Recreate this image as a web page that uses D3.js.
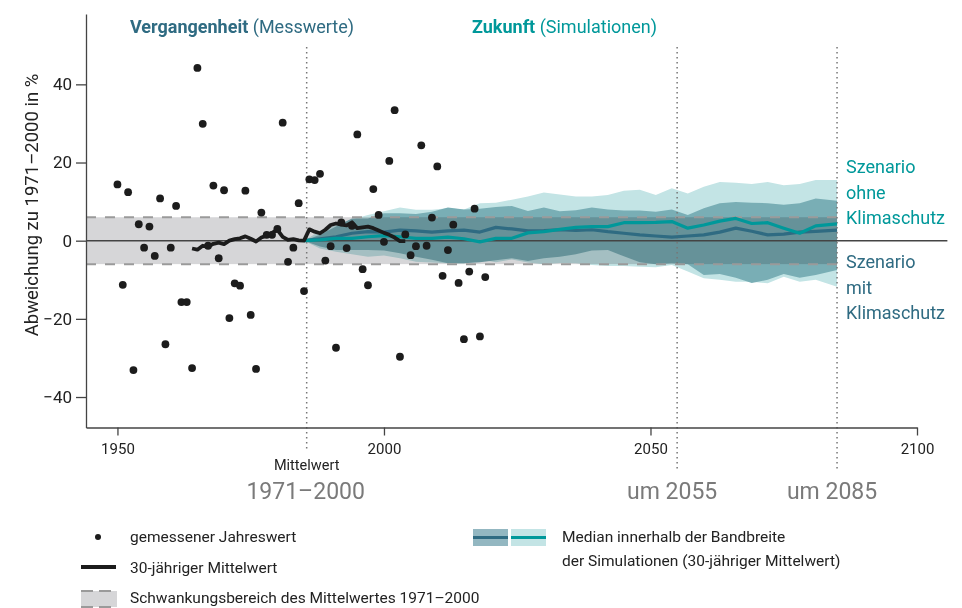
<!DOCTYPE html>
<html>
<head>
<meta charset="utf-8">
<script src="https://cdn.jsdelivr.net/npm/d3@7"></script>
<style>
  body { margin: 0; background: #fff; }
  svg text { font-family: Roboto, "Liberation Sans", sans-serif; }
</style>
</head>
<body>
<svg id="chart" width="962" height="608"></svg>
<script>
// measured yearly values 1950-2019 (deviation from 1971-2000 in %)
var obsStart = 1950;
var obsValues = [
  14.4, -11.3, 12.4, -33.1, 4.2, -1.8, 3.6, -3.9, 10.8, -26.5,
  -1.8, 8.9, -15.7, -15.7, -32.6, 44.2, 29.9, -1.3, 14.1, -4.5,
  12.9, -19.8, -10.9, -11.5, 12.8, -19, -32.8, 7.2, 1.5, 1.5,
  3, 30.2, -5.4, -1.8, 9.6, -12.9, 15.7, 15.5, 17.1, -5.1,
  -1.4, -27.4, 4.7, -1.9, 3.8, 27.2, -7.3, -11.4, 13.2, 6.6,
  -0.3, 20.4, 33.4, -29.7, 1.6, -3.7, -1.4, 24.4, -1.3, 5.9,
  19, -9, -2.4, 4.1, -10.8, -25.2, -7.9, 8.2, -24.5, -9.3
];

// 30-year running mean (centered), 1964-2004
var meanStart = 1964;
var meanValues = [
  -2.0, -2.3, -1.3, -1.5, -0.8, -0.5, -0.9, 0.0, 0.4, 0.6,
  1.1, 0.5, -0.2, 0.8, 1.3, 2.0, 2.8, 1.0, 0.2, 0.4,
  0.1, 0.0, 2.9, 2.3, 1.9, 2.8, 4.0, 4.4, 4.1, 3.9,
  4.7, 3.2, 3.4, 3.6, 3.2, 2.6, 2.0, 1.5, 0.8, -0.1, -0.1
];

// simulations (30-year mean)
var simYears = [1985, 1988, 1991, 1994, 1997, 2000, 2003, 2006, 2009, 2012, 2015, 2018, 2021, 2024, 2027, 2030, 2033,
  2036, 2039, 2042, 2045, 2048, 2051, 2054, 2057, 2060, 2063, 2066, 2069, 2072, 2075, 2078, 2081, 2085];
var ohneHi = [0, 2.5, 4, 5.5, 6.6, 7.5, 8.5, 7.9, 7.9, 8.3, 8, 9.6, 9.7, 10.5, 11.3, 12.3, 11.8,
  11.3, 11.3, 11.7, 12.8, 13, 11.7, 13.4, 12.1, 13.8, 15, 14.8, 14.5, 15, 14.2, 14.5, 15.5, 15.5];
var ohneLo = [0, -2, -2.8, -3.5, -4.1, -3.8, -4.5, -5.4, -5.6, -5.8, -5.8, -4.8, -5.5, -4.8, -5.6, -6, -5.7,
  -5.8, -6.2, -6.5, -6.5, -6.7, -6.8, -6.2, -7.9, -9.6, -10, -10.5, -10.5, -10.9, -9.2, -10.5, -10, -11.8];
var ohneMed = [0, 0.2, 0.6, 0.6, 1, 1.3, 1, 0.6, 0.6, 0.9, 0.5, -0.3, 0.6, 0.6, 2, 2.3, 2.9,
  3.4, 3.6, 3.6, 4.6, 4.6, 4.7, 4.9, 3.2, 4, 5, 5.7, 4.4, 4.6, 3.2, 1.9, 3.8, 4.3];
var mitHi = [0, 1.5, 3.6, 5.7, 5.7, 7, 7, 6.8, 7.4, 8.5, 8, 8.2, 8.6, 8.9, 7.6, 8.5, 7.5,
  7.8, 8.5, 8, 7.7, 7.7, 7.4, 8, 6.6, 8.3, 9.6, 9.9, 9.7, 9.6, 9.2, 9.6, 10.8, 10.2];
var mitLo = [0, -1.5, -2.4, -2.4, -2.4, -2.5, -3.2, -4.1, -4.9, -5.8, -5.8, -5.5, -5, -4.5, -5.2, -4.5, -4.1,
  -3.5, -2.5, -2.4, -4, -5.5, -6, -5.8, -6, -8.8, -8.5, -9.5, -10.8, -10, -8.5, -9.5, -8.8, -7.5];
var mitMed = [0, 0.5, 1, 1.9, 2.3, 2.2, 2.7, 2.5, 2.2, 2.5, 2.7, 2.2, 3.4, 3, 2.5, 2.6, 2.8,
  2.6, 2.8, 2.3, 1.9, 1.5, 1.2, 0.9, 1.2, 1.5, 2.2, 3.2, 2.4, 1.5, 1.7, 2.2, 2.4, 2.7];

var xTicks = [1950, 2000, 2050, 2100];
var yTicks = [-40, -20, 0, 20, 40];
var bandRange = [-6, 6];          // Schwankungsbereich
var markYears = [1985.5, 2055, 2085];

var colDark = "#2f6b82", colTeal = "#00989a";
var colLight = "#c3e4e5", colMid = "#79aeb5", colGray = "#d6d6d8";

var svg = d3.select("#chart");

var x = d3.scaleLinear().domain([1944.1, 2100]).range([86, 917]);
var y = d3.scaleLinear().domain([-47.8, 58]).range([427.5, 14]);

var sim = simYears.map(function(yr, i) {
  return { year: yr, oh: ohneHi[i], ol: ohneLo[i], om: ohneMed[i], mh: mitHi[i], ml: mitLo[i], mm: mitMed[i] };
});

// simulation bands
var area = function(lo, hi) {
  return d3.area().x(function(d) { return x(d.year); })
    .y0(function(d) { return y(d[lo]); }).y1(function(d) { return y(d[hi]); });
};
svg.append("path").datum(sim).attr("d", area("ol", "oh")).attr("fill", colLight);
svg.append("path").datum(sim).attr("d", area("ml", "mh")).attr("fill", colMid);

// grey band of the 1971-2000 mean, multiplied over the bands
svg.append("rect")
  .attr("x", x(1944.1)).attr("width", x(2085) - x(1944.1))
  .attr("y", y(bandRange[1])).attr("height", y(bandRange[0]) - y(bandRange[1]))
  .attr("fill", colGray).style("mix-blend-mode", "multiply");
bandRange.forEach(function(v) {
  svg.append("line")
    .attr("x1", x(1944.1)).attr("x2", x(2085))
    .attr("y1", y(v)).attr("y2", y(v))
    .attr("stroke", "#9a9a9a").attr("stroke-width", 2).attr("stroke-dasharray", "10,9");
});

// zero line
svg.append("line")
  .attr("x1", x(1944.1)).attr("x2", x(2105.7))
  .attr("y1", y(0)).attr("y2", y(0))
  .attr("stroke", "#444").attr("stroke-width", 1.6);

// vertical dotted lines
markYears.forEach(function(yr, i) {
  svg.append("line")
    .attr("x1", x(yr)).attr("x2", x(yr))
    .attr("y1", 47).attr("y2", i == 0 ? 452 : 472)
    .attr("stroke", "#777").attr("stroke-width", 1.5)
    .attr("stroke-dasharray", "1.5,3.5");
});

// medians
var medLine = function(key) {
  return d3.line().x(function(d) { return x(d.year); }).y(function(d) { return y(d[key]); });
};
svg.append("path").datum(sim).attr("d", medLine("mm"))
  .attr("fill", "none").attr("stroke", colDark).attr("stroke-width", 3.2).attr("stroke-linejoin", "round");
svg.append("path").datum(sim).attr("d", medLine("om"))
  .attr("fill", "none").attr("stroke", colTeal).attr("stroke-width", 3.2).attr("stroke-linejoin", "round");

// 30-year mean of measurements
svg.append("path").datum(meanValues)
  .attr("d", d3.line().x(function(d, i) { return x(meanStart + i); }).y(function(d) { return y(d); }))
  .attr("fill", "none").attr("stroke", "#1c1c1c").attr("stroke-width", 3.8).attr("stroke-linejoin", "round");

// yearly values
svg.selectAll("circle.obs").data(obsValues).enter().append("circle")
  .attr("class", "obs")
  .attr("cx", function(d, i) { return x(obsStart + i); })
  .attr("cy", function(d) { return y(d); })
  .attr("r", 3.9).attr("fill", "#1c1c1c");

// axes
var xAxis = svg.append("g").attr("transform", "translate(0," + y.range()[0] + ")")
  .call(d3.axisBottom(x).tickValues(xTicks).tickFormat(d3.format("d")).tickSize(8).tickSizeOuter(0).tickPadding(8));
var yAxis = svg.append("g").attr("transform", "translate(" + x.range()[0] + ",0)")
  .call(d3.axisLeft(y).tickValues(yTicks).tickSize(10).tickSizeOuter(0).tickPadding(4));
[xAxis, yAxis].forEach(function(g) {
  g.select(".domain").attr("stroke", "#444").attr("stroke-width", 1.3);
  g.selectAll(".tick line").attr("stroke", "#444").attr("stroke-width", 1.3);
  g.selectAll("text").attr("fill", "#222").style("font-family", "Roboto, sans-serif");
});
xAxis.selectAll("text").style("font-size", "15px");
yAxis.selectAll("text").style("font-size", "17px");

svg.append("text")
  .attr("transform", "translate(38,205) rotate(-90)")
  .attr("text-anchor", "middle")
  .style("font-size", "18.5px").attr("fill", "#222")
  .text("Abweichung zu 1971–2000 in %");

// headings
var h1 = svg.append("text").attr("x", 130).attr("y", 33).style("font-size", "18px").attr("fill", colDark);
h1.append("tspan").style("font-weight", "bold").text("Vergangenheit");
h1.append("tspan").text(" (Messwerte)");
var h2 = svg.append("text").attr("x", 472).attr("y", 33).style("font-size", "18px").attr("fill", colTeal);
h2.append("tspan").style("font-weight", "bold").text("Zukunft");
h2.append("tspan").text(" (Simulationen)");

// scenario labels
var scen = [
  { lines: ["Szenario", "ohne", "Klimaschutz"], y0: 173, col: colTeal },
  { lines: ["Szenario", "mit", "Klimaschutz"], y0: 268, col: colDark }
];
scen.forEach(function(s) {
  s.lines.forEach(function(t, i) {
    svg.append("text").attr("x", 846).attr("y", s.y0 + i * 25.5)
      .style("font-size", "18px").attr("fill", s.col).text(t);
  });
});

// labels under the axis
svg.append("text").attr("x", x(markYears[0])).attr("y", 470).attr("text-anchor", "middle")
  .style("font-size", "14.5px").attr("fill", "#222").text("Mittelwert");
var bottomLabels = ["1971–2000", "um 2055", "um 2085"];
markYears.forEach(function(yr, i) {
  svg.append("text").attr("x", x(yr) - (i == 0 ? 1 : 5)).attr("y", 499).attr("text-anchor", "middle")
    .style("font-size", "23px").attr("fill", "#7a7a7a").text(bottomLabels[i]);
});

// legend
var lg = svg.append("g").style("font-size", "15.5px").attr("fill", "#222");
lg.append("circle").attr("cx", 98).attr("cy", 537).attr("r", 3).attr("fill", "#1c1c1c");
lg.append("text").attr("x", 130).attr("y", 542).text("gemessener Jahreswert");
lg.append("line").attr("x1", 81).attr("x2", 116).attr("y1", 567).attr("y2", 567)
  .attr("stroke", "#1c1c1c").attr("stroke-width", 4);
lg.append("text").attr("x", 130).attr("y", 573).text("30-jähriger Mittelwert");
lg.append("rect").attr("x", 81).attr("y", 591).attr("width", 36).attr("height", 16).attr("fill", colGray);
[591, 607].forEach(function(yy) {
  lg.append("line").attr("x1", 81).attr("x2", 117).attr("y1", yy).attr("y2", yy)
    .attr("stroke", "#9a9a9a").attr("stroke-width", 2).attr("stroke-dasharray", "12,6");
});
lg.append("text").attr("x", 130).attr("y", 603).text("Schwankungsbereich des Mittelwertes 1971–2000");

lg.append("rect").attr("x", 473).attr("y", 529).attr("width", 35).attr("height", 17).attr("fill", "#93b7c1");
lg.append("line").attr("x1", 473).attr("x2", 508).attr("y1", 537.5).attr("y2", 537.5)
  .attr("stroke", colDark).attr("stroke-width", 3);
lg.append("rect").attr("x", 511).attr("y", 529).attr("width", 35).attr("height", 17).attr("fill", colLight);
lg.append("line").attr("x1", 511).attr("x2", 546).attr("y1", 537.5).attr("y2", 537.5)
  .attr("stroke", colTeal).attr("stroke-width", 3);
lg.append("text").attr("x", 562).attr("y", 542).text("Median innerhalb der Bandbreite");
lg.append("text").attr("x", 562).attr("y", 566).text("der Simulationen (30-jähriger Mittelwert)");
</script>
</body>
</html>
